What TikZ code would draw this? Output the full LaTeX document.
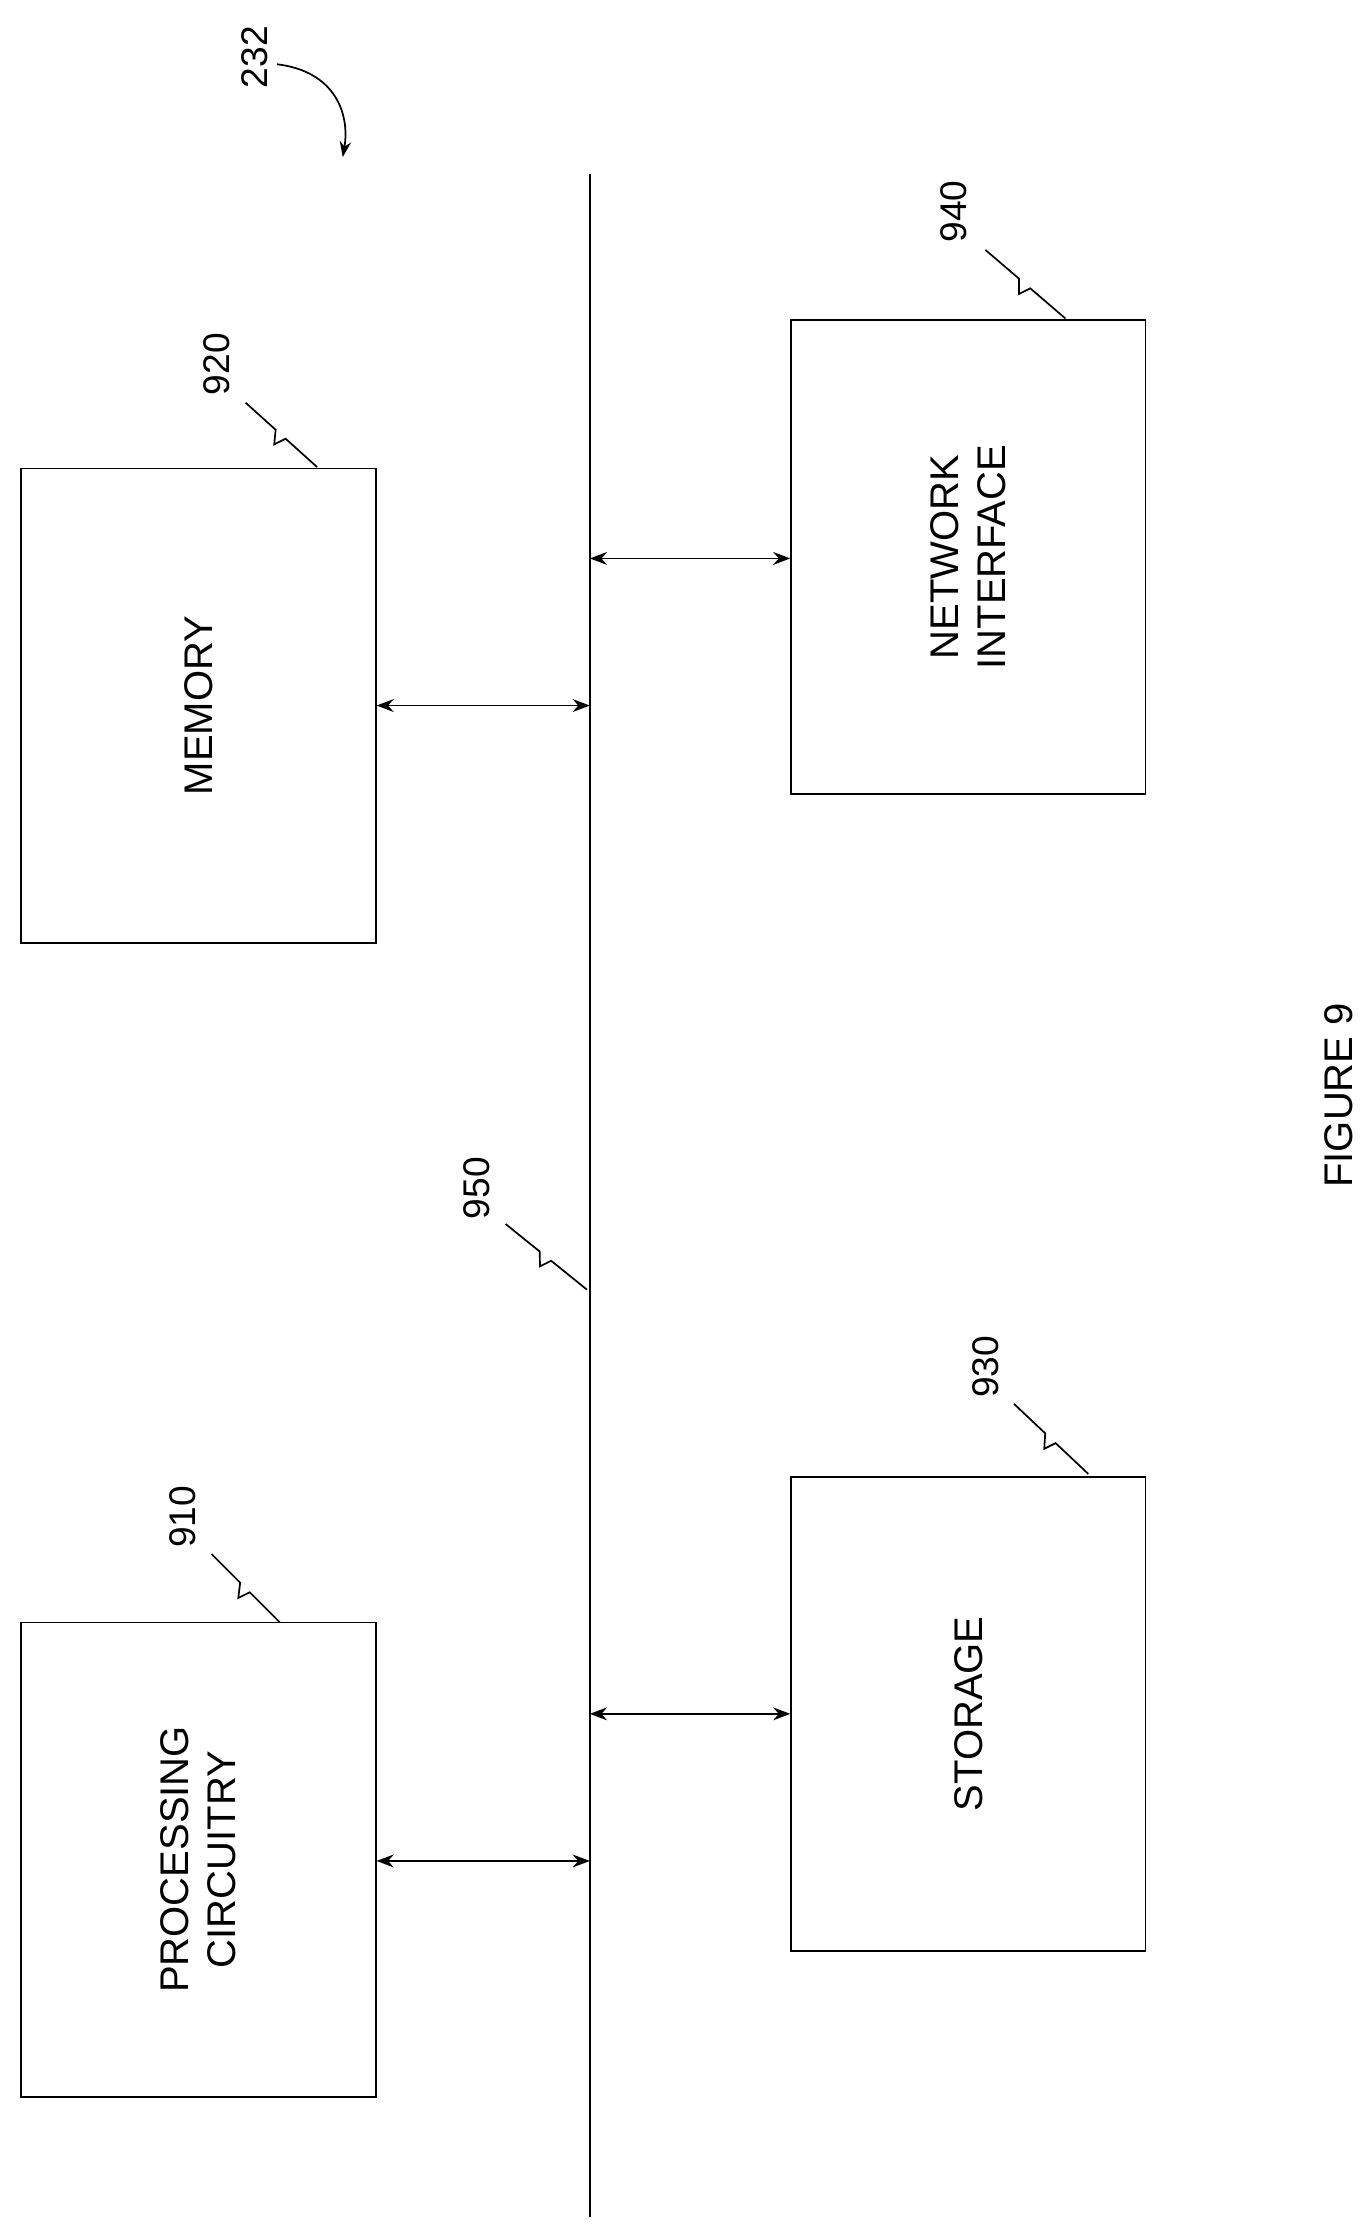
\documentclass[tikz,border=0pt]{standalone}
\usepackage{fontspec}
\setmainfont{Liberation Sans}
\usetikzlibrary{calc,arrows.meta}
\begin{document}
\begin{tikzpicture}[x=1pt,y=-1pt,
  box/.style={draw,line width=1.3pt,minimum width=248pt,minimum height=332pt,inner sep=0pt},
  lbl/.style={rotate=90,font=\fontsize{28}{33}\selectfont,align=center},
  num/.style={rotate=90,font=\fontsize{26}{30}\selectfont,inner sep=1pt},
  arr/.style={{Stealth[length=12pt,width=9pt]}-{Stealth[length=12pt,width=9pt]},line width=1.3pt},
  lead/.style={line width=1.2pt}]
\useasboundingbox (0,0) rectangle (960,1560);
\coordinate (bt) at (413,122);
\coordinate (bb) at (413,1552);
\draw[line width=1.3pt] (bt) -- (bb);
\node[box] (mem) at (139,494) {};
\node[lbl] at (mem) {MEMORY};
\node[box] (proc) at (139,1302) {};
\node[lbl] at (proc) {PROCESSING\\CIRCUITRY};
\node[box] (net) at (678,390) {};
\node[lbl] at (net) {NETWORK\\INTERFACE};
\node[box] (sto) at (678,1200) {};
\node[lbl] at (sto) {STORAGE};
\coordinate (bm) at (413,494);
\coordinate (bp) at (413,1303);
\coordinate (bn) at (413,391);
\coordinate (bs) at (413,1200);
\draw[arr] (mem.east |- bm) -- (bm);
\draw[arr] (proc.east |- bp) -- (bp);
\draw[arr] (bn) -- (net.west |- bn);
\draw[arr] (bs) -- (sto.west |- bs);
% labels
\newcommand{\lead}[2]{\draw[lead] (#1) -- ($(#1)!0.42!(#2)$) -- ($(#1)!0.58!(#2)+(-9,3)$) -- ($(#1)!0.56!(#2)+(0,0)$) -- (#2);}
\node[num] (l920) at (152,255) {920};
\coordinate (e920) at (222,327);
\coordinate (s920) at (172,282);
\lead{s920}{e920}
\node[num] (l940) at (668,148) {940};
\coordinate (s940) at (690,175);
\coordinate (e940) at (746,223);
\lead{s940}{e940}
\node[num] (l910) at (128,1062) {910};
\coordinate (s910) at (148,1088);
\coordinate (e910) at (196,1136);
\lead{s910}{e910}
\node[num] (l930) at (690,957) {930};
\coordinate (s930) at (710,983);
\coordinate (e930) at (762,1032);
\lead{s930}{e930}
\node[num] (l950) at (334,832) {950};
\coordinate (s950) at (354,857);
\coordinate (e950) at (411,903);
\lead{s950}{e950}
\node[num] (l232) at (178,40) {232};
\coordinate (e232) at (240,110);
\draw[lead,-{Stealth[length=11pt,width=8pt]}] (194,45) .. controls (235,50) and (245,80) .. (e232);
\node[rotate=90,font=\fontsize{28}{33}\selectfont] (fig) at (937,767) {FIGURE 9};
\end{tikzpicture}
\end{document}
